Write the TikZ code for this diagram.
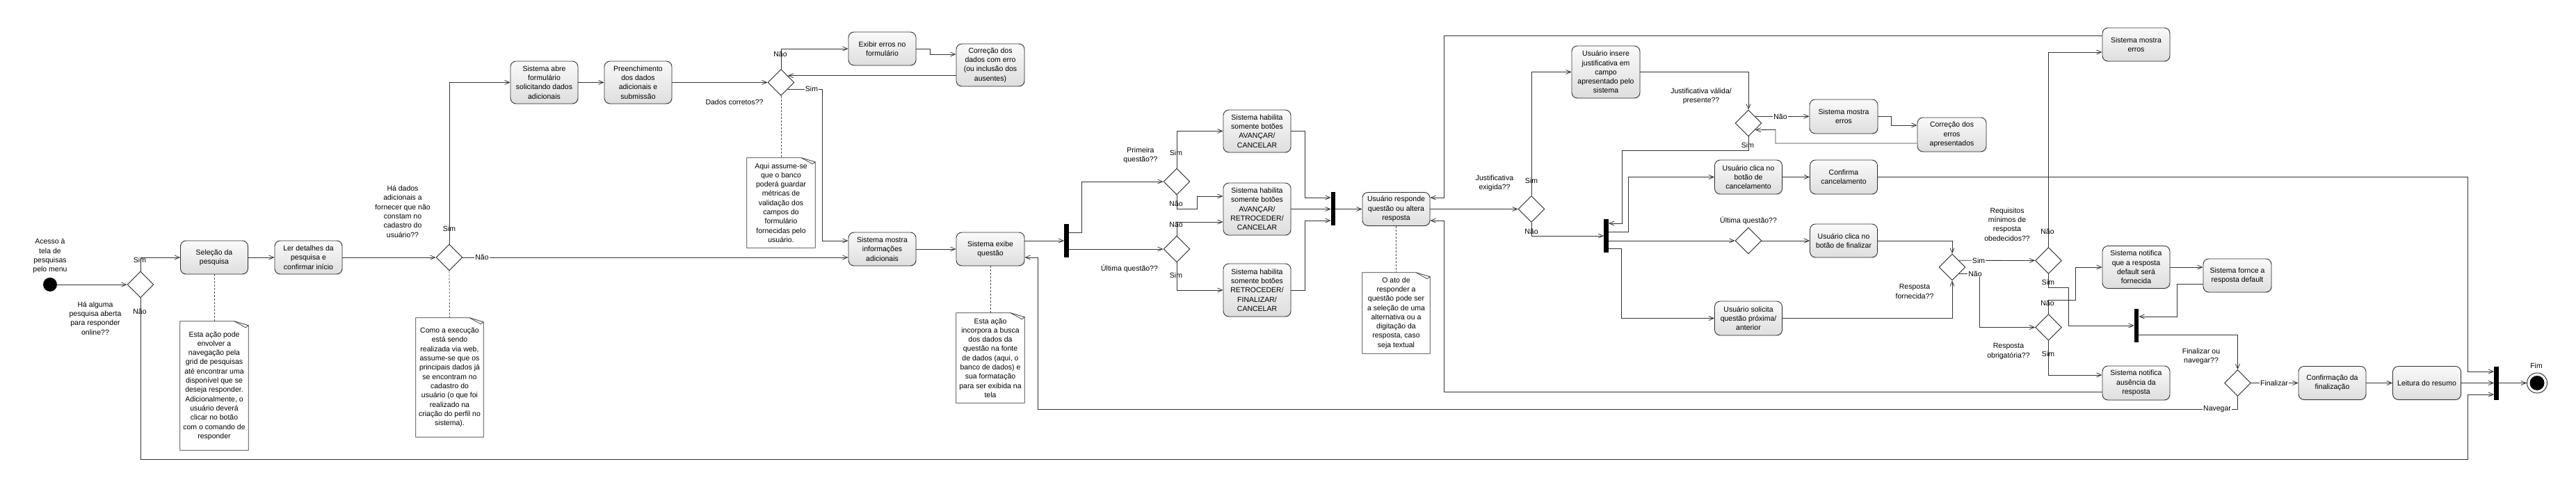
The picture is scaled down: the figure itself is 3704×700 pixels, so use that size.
\documentclass[tikz,border=0pt]{standalone}
\usepackage{fontspec}
\setmainfont{Liberation Sans}
\usetikzlibrary{shapes.geometric,arrows.meta,calc,shadows}
\newcommand\drawnote[1]{%
  \draw[line width=0.8pt,draw=black!80] (#1.north west) -- ($(#1.north east)+(-20pt,0pt)$) -- ($(#1.north east)+(0pt,-6pt)$) -- (#1.south east) -- (#1.south west) -- cycle;
  \draw[line width=0.7pt,draw=black!80] ($(#1.north east)+(-20pt,0pt)$) -- ($(#1.north east)+(-4pt,-9pt)$) -- ($(#1.north east)+(0pt,-6pt)$);
}
\begin{document}
\begin{tikzpicture}[x=1pt,y=-1pt,
  font=\fontsize{10.5}{13.3}\selectfont,
  actbox/.style={draw=black!80,line width=0.9pt,rounded corners=8pt,top color=black!2,bottom color=black!13,align=center,minimum width=97pt,minimum height=48pt,inner sep=1pt,drop shadow={opacity=0.18,shadow xshift=1pt,shadow yshift=-1.2pt}},
  notebx/.style={align=center,inner sep=0pt,minimum width=98pt},
  dec/.style={diamond,draw=black!85,line width=0.9pt,fill=white,minimum width=38pt,minimum height=38pt,inner sep=0pt,aspect=1},
  barh/.style={rectangle,fill=black,minimum width=6.5pt,minimum height=48pt,inner sep=0pt},
  conn/.style={draw=black!80,line width=0.8pt,-{Straight Barb[length=7pt,width=6pt]}},
  dashconn/.style={draw=black!70,line width=0.8pt,dash pattern=on 3pt off 2pt},
  lbl/.style={inner sep=1pt,align=center},
  elbl/.style={inner sep=1pt,fill=white}]
\useasboundingbox (0,0) rectangle (3704,700);

% ---------- nodes ----------
\node[circle,fill=black,minimum size=20pt,inner sep=0pt] (start) at (72,409) {};
\node[dec] (d1) at (202,409) {};
\node[actbox] (selecao) at (308,370) {Seleção da\\pesquisa};
\node[actbox] (ler) at (443.5,370) {Ler detalhes da\\pesquisa e\\confirmar início};
\node[dec] (d2) at (646,370) {};
\node[actbox,minimum height=61pt] (abre) at (782.5,118.5) {Sistema abre\\formulário\\solicitando dados\\adicionais};
\node[actbox,minimum height=61pt] (preench) at (917.5,118.5) {Preenchimento\\dos dados\\adicionais e\\submissão};
\node[dec] (dados) at (1123,118.5) {};
\node[actbox] (exibir) at (1268.5,70) {Exibir erros no\\formulário};
\node[actbox,minimum width=98pt,minimum height=61pt] (corrdados) at (1424,93.5) {Correção dos\\dados com erro\\(ou inclusão dos\\ausentes)};
\node[actbox] (sistmostra) at (1268.5,358) {Sistema mostra\\informações\\adicionais};
\node[actbox,minimum width=98pt] (exibe) at (1424,358) {Sistema exibe\\questão};
\node[barh] (bar1) at (1533.5,346) {};
\node[dec] (dprim) at (1692,261) {};
\node[dec] (dult) at (1692,358) {};
\node[actbox,minimum height=61pt] (box1) at (1807.5,188.5) {Sistema habilita\\somente botões\\AVANÇAR/\\CANCELAR};
\node[actbox,minimum height=75pt] (box2) at (1807.5,300.5) {Sistema habilita\\somente botões\\AVANÇAR/\\RETROCEDER/\\CANCELAR};
\node[actbox,minimum height=76pt] (box3) at (1807.5,417) {Sistema habilita\\somente botões\\RETROCEDER/\\FINALIZAR/\\CANCELAR};
\node[barh] (bar2) at (1917,300.5) {};
\node[actbox] (responde) at (2007.5,300.5) {Usuário responde\\questão ou altera\\resposta};
\node[dec] (djust) at (2202,300.5) {};
\node[actbox,minimum width=98pt,minimum height=75pt] (insere) at (2309,103.5) {Usuário insere\\justificativa em\\campo\\apresentado pelo\\sistema};
\node[dec] (djv) at (2514,177) {};
\node[actbox,minimum width=98pt,minimum height=49pt] (erros2) at (2651,167.5) {Sistema mostra\\erros};
\node[actbox,minimum width=99pt,minimum height=49pt] (correrros) at (2806.5,193.5) {Correção dos\\erros\\apresentados};
\node[barh] (bar3) at (2309.5,339) {};
\node[actbox,minimum height=49pt] (cancel) at (2514,254.5) {Usuário clica no\\botão de\\cancelamento};
\node[actbox,minimum height=49pt] (confirma) at (2651,254.5) {Confirma\\cancelamento};
\node[dec] (dult2) at (2514,346) {};
\node[actbox] (finalizar) at (2651,346) {Usuário clica no\\botão de finalizar};
\node[actbox,minimum height=49pt] (solicita) at (2514,457.5) {Usuário solicita\\questão próxima/\\anterior};
\node[dec] (drf) at (2807,384) {};
\node[dec] (dreq) at (2945.5,374.5) {};
\node[dec] (dro) at (2945.5,470.5) {};
\node[actbox] (erros1) at (3071.5,64) {Sistema mostra\\erros};
\node[actbox,minimum height=61pt] (notdef) at (3071.5,384) {Sistema notifica\\que a resposta\\default será\\fornecida};
\node[actbox,minimum width=98pt] (fornce) at (3217,396) {Sistema fornce a\\resposta default};
\node[barh] (bar4) at (3072,467.5) {};
\node[dec] (dfin) at (3217.5,550.5) {};
\node[actbox,minimum height=49pt] (notaus) at (3071.5,550.5) {Sistema notifica\\ausência da\\resposta};
\node[actbox] (confirmacao) at (3353.5,550.5) {Confirmação da\\finalização};
\node[actbox,minimum width=98pt] (leitura) at (3489.5,550.5) {Leitura do resumo};
\node[barh] (bar5) at (3589.5,550.5) {};
\node[circle,draw=black!85,line width=0.9pt,minimum size=29pt,inner sep=0pt] (fim) at (3648,550.5) {};
\fill (fim.center) circle (10.5pt);

% ---------- notes ----------
\node[notebx,minimum height=185pt] (n1) at (308,554.5) {Esta ação pode\\envolver a\\navegação pela\\grid de pesquisas\\até encontrar uma\\disponível que se\\deseja responder.\\Adicionalmente, o\\usuário deverá\\clicar no botão\\com o comando de\\responder};
\drawnote{n1}
\node[notebx,minimum width=97pt,minimum height=171pt] (n2) at (646.5,542.5) {Como a execução\\está sendo\\realizada via web,\\assume-se que os\\principais dados já\\se encontram no\\cadastro do\\usuário (o que foi\\realizado na\\criação do perfil no\\sistema).};
\drawnote{n2}
\node[notebx,minimum height=129pt] (n3) at (1123,291.5) {Aqui assume-se\\que o banco\\poderá guardar\\métricas de\\validação dos\\campos do\\formulário\\fornecidas pelo\\usuário.};
\drawnote{n3}
\node[notebx,minimum height=129pt] (n4) at (1424,514.5) {Esta ação\\incorpora a busca\\dos dados da\\questão na fonte\\de dados (aqui, o\\banco de dados) e\\sua formatação\\para ser exibida na\\tela};
\drawnote{n4}
\node[notebx,minimum width=97pt,minimum height=116pt] (n5) at (2007.5,450) {O ato de\\responder a\\questão pode ser\\a seleção de uma\\alternativa ou a\\digitação da\\resposta, caso\\seja textual};
\drawnote{n5}

\draw[dashconn] (selecao.south) -- (n1.north);
\draw[dashconn] (d2.south) -- (n2.north);
\draw[dashconn] (dados.south) -- (n3.north);
\draw[dashconn] (exibe.south) -- (n4.north);
\draw[dashconn] (responde.south) -- (n5.north);

% ---------- connectors ----------
\draw[conn] (start.east) -- (d1.west);
\draw[conn] (d1.north) |- (selecao.west);
\draw[conn] (d1.south) -- (d1.south |- 0,660) -- (3548,660) -- (3548,567) -- (bar5.west |- 0,567);
\draw[conn] (selecao.east) -- (ler.west);
\draw[conn] (ler.east) -- (d2.west);
\draw[conn] (d2.north) |- (abre.west);
\draw[conn] (d2.east) -- (sistmostra.west |- 0,370);
\draw[conn] (abre.east) -- (preench.west);
\draw[conn] (preench.east) -- (dados.west);
\draw[conn] (dados.north) |- (exibir.west);
\draw[conn] (exibir.east) -- (1337,70) -- (1337,78) -- (corrdados.west |- 0,78);
\draw[conn] (corrdados.west |- dados.north east) -- (dados.north east);
\draw[conn] (dados.south east) -| (1182,346) -- (sistmostra.west |- 0,346);
\draw[conn] (sistmostra.east) -- (exibe.west);
\draw[conn] (exibe.east |- 0,346) -- (bar1.west |- 0,346);
\draw[conn] (bar1.east |- 0,334) -| (1555,261) -- (dprim.west);
\draw[conn] (bar1.east |- dult.west) -- (dult.west);
\draw[conn] (dprim.north) |- (box1.west);
\draw[conn] (dprim.south) |- (1721,300) |- (box2.west |- 0,282);
\draw[conn] (dult.north) |- (box2.west |- 0,319);
\draw[conn] (dult.south) |- (box3.west);
\draw[conn] (box1.east) -| (1876,284) -- (bar2.west |- 0,284);
\draw[conn] (box2.east) -- (bar2.west |- box2.east);
\draw[conn] (box3.east) -| (1876,317) -- (bar2.west |- 0,317);
\draw[conn] (bar2.east |- responde.west) -- (responde.west);
\draw[conn] (responde.east) -- (djust.west);
\draw[conn] (djust.north) |- (insere.west);
\draw[conn] (djust.south) |- (bar3.west);
\draw[conn] (insere.east) -| (djv.north);
\draw[conn] (djv.north east) -- (erros2.west |- djv.north east);
\draw[conn] (erros2.east) -| (2719,180) -- (correrros.west |- 0,180);
\draw[conn] (correrros.west |- 0,206) -| (2553,186.5) -- (djv.south east);
\draw[conn] (djv.south) |- (2332,216) |- (bar3.east |- 0,321);
\draw[conn] (bar3.east |- 0,333) -| (2341,254.5) -- (cancel.west);
\draw[conn] (bar3.east |- dult2.west) -- (dult2.west);
\draw[conn] (bar3.east |- 0,357) -| (2331,457.5) -- (solicita.west);
\draw[conn] (cancel.east) -- (confirma.west);
\draw[conn] (confirma.east) -| (3548,534) -- (bar5.west |- 0,534);
\draw[conn] (dult2.east) -- (finalizar.west);
\draw[conn] (finalizar.east) -| (drf.north);
\draw[conn] (solicita.east) -| (drf.south);
\draw[conn] (drf.north east) -- (dreq.west);
\draw[conn] (drf.south east) -| (2846,470.5) -- (dro.west);
\draw[conn] (dreq.north) |- (erros1.west |- 0,75);
\draw[conn] (dreq.south) |- (2974,413) |- (bar4.west |- 0,468);
\draw[conn] (dro.north) |- (2984,431.5) |- (notdef.west);
\draw[conn] (dro.south) |- (notaus.west |- 0,539);
\draw[conn] (notdef.east) -- (fornce.west |- notdef.east);
\draw[conn] (fornce.west |- 0,408.5) -| (3130,455) -- (bar4.east |- 0,455);
\draw[conn] (bar4.east |- 0,481) -| (dfin.north);
\draw[conn] (dfin.east) -- (confirmacao.west);
\draw[conn] (dfin.south) |- (1492,588) |- (exibe.east |- 0,370);
\draw[conn] (confirmacao.east) -- (leitura.west);
\draw[conn] (leitura.east) -- (bar5.west);
\draw[conn] (bar5.east) -- (fim.west);
\draw[conn] (erros1.west |- 0,51) -| (2076,284) -- (responde.east |- 0,284);
\draw[conn] (notaus.west |- 0,563) -| (2076,317) -- (responde.east |- 0,317);

% ---------- free labels ----------
\node[lbl] at (72,368) {Acesso à\\tela de\\pesquisas\\pelo menu};
\node[lbl] at (137,457.5) {Há alguma\\pesquisa aberta\\para responder\\online??};
\node[lbl] at (579,304) {Há dados\\adicionais a\\fornecer que não\\constam no\\cadastro do\\usuário??};
\node[lbl] at (1056,147) {Dados corretos??};
\node[lbl] at (1640,223) {Primeira\\questão??};
\node[lbl] at (1624,386) {Última questão??};
\node[lbl] at (2149,263) {Justificativa\\exigida??};
\node[lbl] at (2446,138) {Justificativa válida/\\presente??};
\node[lbl] at (2514,317) {Última questão??};
\node[lbl] at (2753,419) {Resposta\\fornecida??};
\node[lbl] at (2886,322.5) {Requisitos\\mínimos de\\resposta\\obedecidos??};
\node[lbl] at (2888,505) {Resposta\\obrigatória??};
\node[lbl] at (3165,512) {Finalizar ou\\navegar??};
\node[lbl] at (3647,526) {Fim};

% ---------- edge labels ----------
\node[lbl] at (201,374) {Sim};
\node[lbl] at (201,448) {Não};
\node[lbl] at (646,329) {Sim};
\node[elbl] at (693,370) {Não};
\node[lbl] at (1122,78) {Não};
\node[elbl] at (1167,127.5) {Sim};
\node[lbl] at (1691,220) {Sim};
\node[lbl] at (1691,293) {Não};
\node[lbl] at (1691,323) {Não};
\node[lbl] at (1691,396) {Sim};
\node[lbl] at (2202,260) {Sim};
\node[lbl] at (2202,333) {Não};
\node[elbl] at (2560,167.5) {Não};
\node[lbl] at (2513,209) {Sim};
\node[elbl] at (2845,374.5) {Sim};
\node[elbl] at (2840,393.5) {Não};
\node[lbl] at (2944,333) {Não};
\node[lbl] at (2945,406) {Sim};
\node[lbl] at (2944,436) {Não};
\node[lbl] at (2945,509) {Sim};
\node[elbl] at (3270,550.5) {Finalizar};
\node[elbl] at (3188,588) {Navegar};
\end{tikzpicture}
\end{document}
